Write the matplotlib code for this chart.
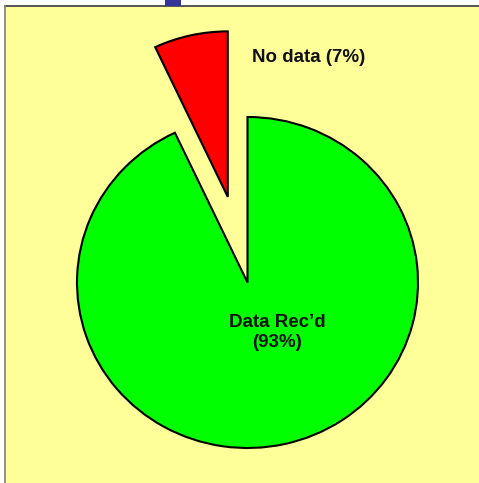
import matplotlib
matplotlib.use("Agg")
import matplotlib.pyplot as plt
from matplotlib.patches import Rectangle
from matplotlib.lines import Line2D

labels = ["No data (7%)", "Data Rec\u2019d\n(93%)"]
values = [7, 93]
colors = ["#FF0000", "#00FF00"]
explode = [0.53, 0.0]

W, H = 479, 483
fig = plt.figure(figsize=(W / 100, H / 100), dpi=100, facecolor="white")

# background panel
fig.add_artist(Rectangle((5 / W, 0), 1 - 5 / W, 1 - 6 / H, transform=fig.transFigure,
                         facecolor="#FFFF99", edgecolor="none", zorder=-2))
fig.add_artist(Line2D([5 / W, 1], [1 - 6 / H, 1 - 6 / H], transform=fig.transFigure,
                      color="#555555", linewidth=1.4, zorder=-1))
fig.add_artist(Line2D([5 / W, 5 / W], [0, 1 - 6 / H], transform=fig.transFigure,
                      color="#808080", linewidth=1.2, zorder=-1))
fig.add_artist(Rectangle((165 / W, 1 - 6 / H), 16 / W, 6 / H, transform=fig.transFigure,
                         facecolor="#333399", edgecolor="none", zorder=-1))

ax = fig.add_axes([0, 0, 1, 1])
ax.set_facecolor("none")
ax.patch.set_alpha(0)
cx, cy, rx, ry = 247.5, 282.5, 170.5, 165.5
wedges, _ = ax.pie(values, colors=colors, explode=explode, startangle=90, counterclock=True,
                   wedgeprops=dict(edgecolor="black", linewidth=1.5))
ax.set_aspect("auto")
ax.set_xlim(-cx / rx, (W - cx) / rx)
ax.set_ylim(-(H - cy) / ry, cy / ry)
ax.axis("off")

font = dict(family=["Liberation Sans", "DejaVu Sans"], fontweight="bold", fontsize=13.5, color="#111111")
ax.text(0.026, 1.357, labels[0], ha="left", va="center", **font)
ax.text(0.173, -0.30, labels[1], ha="center", va="center", linespacing=1.25, **font)

fig.savefig("out.png", dpi=100, facecolor="white")
